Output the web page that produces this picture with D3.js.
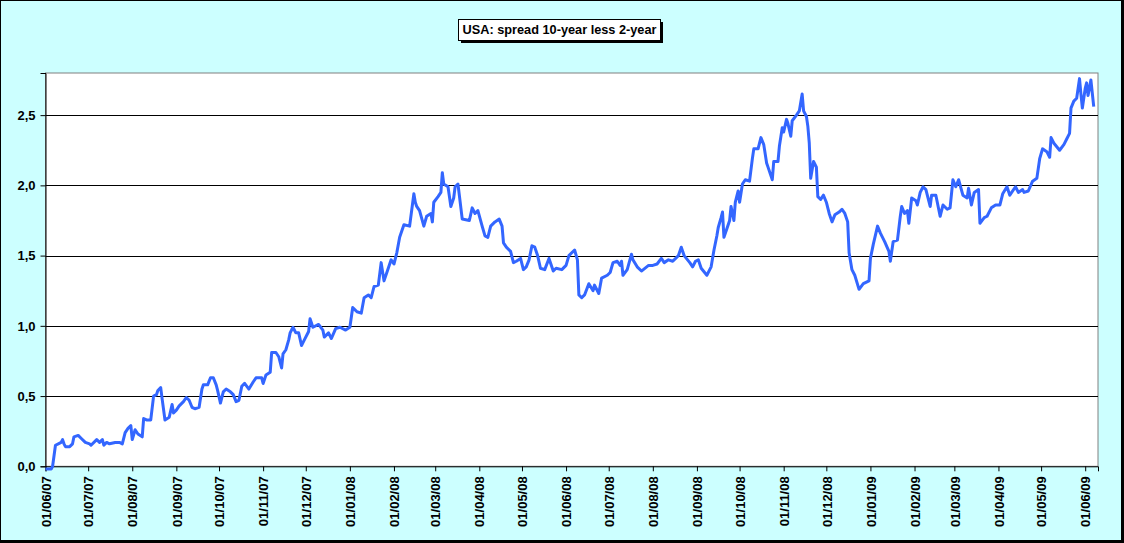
<!DOCTYPE html>
<html><head><meta charset="utf-8">
<script src="https://cdn.jsdelivr.net/npm/d3@7/dist/d3.min.js"></script>
<style>html,body{margin:0;padding:0;background:#CCFFFF;}svg{display:block;}</style>
</head><body>
<script>
const chartTitle = "USA: spread 10-year less 2-year";
const dates = [
"2007-06-01","2007-06-05","2007-06-06","2007-06-08","2007-06-10","2007-06-12","2007-06-13","2007-06-14","2007-06-15","2007-06-18",
"2007-06-20","2007-06-21","2007-06-24","2007-06-26","2007-06-29","2007-07-02","2007-07-03","2007-07-07","2007-07-09","2007-07-11",
"2007-07-12","2007-07-14","2007-07-16","2007-07-20","2007-07-23","2007-07-25","2007-07-27","2007-07-29","2007-07-31","2007-08-01",
"2007-08-03","2007-08-05","2007-08-08","2007-08-09","2007-08-11","2007-08-14","2007-08-16","2007-08-18","2007-08-19","2007-08-21",
"2007-08-22","2007-08-24","2007-08-27","2007-08-29","2007-08-30","2007-09-01","2007-09-03","2007-09-06","2007-09-08","2007-09-10",
"2007-09-12","2007-09-14","2007-09-17","2007-09-19","2007-09-20","2007-09-23","2007-09-25","2007-09-27","2007-09-29","2007-09-30",
"2007-10-02","2007-10-04","2007-10-06","2007-10-09","2007-10-11","2007-10-13","2007-10-15","2007-10-17","2007-10-19","2007-10-22",
"2007-10-25","2007-10-27","2007-10-31","2007-11-01","2007-11-03","2007-11-06","2007-11-07","2007-11-10","2007-11-12","2007-11-14",
"2007-11-15","2007-11-17","2007-11-19","2007-11-20","2007-11-22","2007-11-24","2007-11-26","2007-11-28","2007-11-30","2007-12-03",
"2007-12-04","2007-12-06","2007-12-10","2007-12-13","2007-12-14","2007-12-17","2007-12-19","2007-12-22","2007-12-25","2007-12-29",
"2008-01-01","2008-01-03","2008-01-06","2008-01-09","2008-01-11","2008-01-14","2008-01-16","2008-01-18","2008-01-21","2008-01-23",
"2008-01-25","2008-01-27","2008-01-30","2008-02-01","2008-02-03","2008-02-05","2008-02-08","2008-02-12","2008-02-15","2008-02-16",
"2008-02-17","2008-02-19","2008-02-22","2008-02-24","2008-02-27","2008-02-28","2008-02-29","2008-03-03","2008-03-05","2008-03-06",
"2008-03-07","2008-03-10","2008-03-12","2008-03-14","2008-03-15","2008-03-17","2008-03-20","2008-03-25","2008-03-27","2008-03-29",
"2008-03-31","2008-04-03","2008-04-05","2008-04-07","2008-04-09","2008-04-12","2008-04-15","2008-04-17","2008-04-18","2008-04-20",
"2008-04-23","2008-04-25","2008-04-27","2008-04-30","2008-05-02","2008-05-04","2008-05-06","2008-05-08","2008-05-10","2008-05-12",
"2008-05-14","2008-05-17","2008-05-20","2008-05-23","2008-05-25","2008-05-29","2008-06-01","2008-06-03","2008-06-07","2008-06-09",
"2008-06-10","2008-06-12","2008-06-14","2008-06-17","2008-06-20","2008-06-21","2008-06-24","2008-06-26","2008-06-30","2008-07-02",
"2008-07-04","2008-07-07","2008-07-09","2008-07-10","2008-07-11","2008-07-14","2008-07-17","2008-07-18","2008-07-21","2008-07-24",
"2008-07-29","2008-08-01","2008-08-04","2008-08-07","2008-08-09","2008-08-12","2008-08-15","2008-08-19","2008-08-21","2008-08-23",
"2008-08-27","2008-08-29","2008-08-31","2008-09-02","2008-09-04","2008-09-08","2008-09-11","2008-09-13","2008-09-15","2008-09-16",
"2008-09-18","2008-09-19","2008-09-20","2008-09-22","2008-09-24","2008-09-25","2008-09-27","2008-09-28","2008-09-30","2008-10-01",
"2008-10-03","2008-10-05","2008-10-08","2008-10-10","2008-10-11","2008-10-14","2008-10-16","2008-10-18","2008-10-20","2008-10-21",
"2008-10-24","2008-10-25","2008-10-28","2008-10-29","2008-10-31","2008-11-01","2008-11-03","2008-11-04","2008-11-06","2008-11-07",
"2008-11-10","2008-11-12","2008-11-14","2008-11-15","2008-11-17","2008-11-18","2008-11-19","2008-11-20","2008-11-22","2008-11-24",
"2008-11-25","2008-11-27","2008-11-29","2008-12-01","2008-12-03","2008-12-05","2008-12-07","2008-12-10","2008-12-12","2008-12-14",
"2008-12-16","2008-12-17","2008-12-19","2008-12-21","2008-12-24","2008-12-27","2008-12-31","2009-01-01","2009-01-03","2009-01-06",
"2009-01-08","2009-01-11","2009-01-14","2009-01-15","2009-01-17","2009-01-20","2009-01-22","2009-01-23","2009-01-25","2009-01-27",
"2009-01-28","2009-01-30","2009-02-02","2009-02-03","2009-02-05","2009-02-07","2009-02-09","2009-02-12","2009-02-13","2009-02-16",
"2009-02-19","2009-02-21","2009-02-24","2009-02-26","2009-02-28","2009-03-02","2009-03-04","2009-03-07","2009-03-10","2009-03-11",
"2009-03-13","2009-03-15","2009-03-18","2009-03-19","2009-03-22","2009-03-24","2009-03-27","2009-03-30","2009-04-02","2009-04-04",
"2009-04-07","2009-04-09","2009-04-13","2009-04-15","2009-04-18","2009-04-19","2009-04-22","2009-04-25","2009-04-28","2009-04-30",
"2009-05-02","2009-05-05","2009-05-07","2009-05-08","2009-05-10","2009-05-14","2009-05-17","2009-05-19","2009-05-21","2009-05-22",
"2009-05-24","2009-05-26","2009-05-28","2009-05-29","2009-05-30","2009-06-01","2009-06-02","2009-06-03","2009-06-05","2009-06-07"
];
const spread = [
-0.02,-0.02,0.00,0.15,0.16,0.17,0.19,0.16,0.14,0.14,
0.16,0.21,0.22,0.20,0.17,0.16,0.15,0.19,0.17,0.19,
0.15,0.17,0.16,0.17,0.17,0.16,0.24,0.27,0.29,0.19,
0.26,0.23,0.21,0.34,0.33,0.33,0.50,0.51,0.54,0.56,
0.48,0.33,0.35,0.44,0.38,0.40,0.43,0.46,0.49,0.47,
0.42,0.41,0.42,0.55,0.58,0.58,0.63,0.63,0.58,0.54,
0.45,0.53,0.55,0.53,0.51,0.46,0.47,0.57,0.59,0.55,
0.60,0.63,0.63,0.59,0.65,0.67,0.81,0.81,0.78,0.70,
0.80,0.83,0.90,0.95,0.99,0.95,0.95,0.86,0.90,0.96,
1.05,0.99,1.01,0.97,0.92,0.95,0.91,0.98,0.99,0.97,
0.99,1.13,1.10,1.09,1.20,1.22,1.20,1.28,1.29,1.45,
1.32,1.38,1.47,1.44,1.52,1.63,1.72,1.71,1.94,1.88,
1.85,1.82,1.71,1.78,1.80,1.74,1.88,1.92,1.95,2.09,
2.01,1.99,1.85,1.91,1.99,2.01,1.76,1.75,1.84,1.80,
1.82,1.71,1.64,1.63,1.71,1.74,1.76,1.71,1.59,1.56,
1.53,1.45,1.46,1.48,1.40,1.42,1.47,1.57,1.56,1.50,
1.41,1.40,1.48,1.39,1.41,1.40,1.43,1.50,1.54,1.47,
1.22,1.20,1.22,1.30,1.25,1.29,1.23,1.34,1.36,1.38,
1.45,1.46,1.43,1.46,1.36,1.40,1.51,1.47,1.42,1.39,
1.43,1.43,1.44,1.48,1.45,1.47,1.46,1.50,1.56,1.50,
1.45,1.42,1.46,1.47,1.41,1.36,1.42,1.54,1.64,1.70,
1.77,1.81,1.63,1.69,1.75,1.85,1.75,1.88,1.96,1.88,
2.01,2.04,2.03,2.19,2.26,2.26,2.34,2.29,2.16,2.13,
2.04,2.17,2.17,2.28,2.41,2.38,2.47,2.44,2.35,2.46,
2.50,2.53,2.65,2.53,2.49,2.42,2.30,2.05,2.17,2.13,
1.92,1.90,1.93,1.88,1.80,1.74,1.79,1.81,1.83,1.80,
1.74,1.52,1.40,1.36,1.26,1.30,1.32,1.48,1.58,1.71,
1.66,1.60,1.53,1.46,1.60,1.61,1.78,1.85,1.80,1.82,
1.73,1.91,1.89,1.86,1.95,1.99,1.97,1.85,1.93,1.93,
1.78,1.86,1.83,1.84,2.04,1.99,2.04,1.93,1.91,1.98,
1.86,1.95,1.97,1.73,1.77,1.78,1.84,1.86,1.86,1.94,
1.99,1.93,1.99,1.95,1.97,1.95,1.96,2.03,2.05,2.19,
2.26,2.24,2.20,2.34,2.30,2.25,2.29,2.33,2.37,2.55,
2.60,2.62,2.76,2.65,2.55,2.69,2.73,2.64,2.75,2.56
];
const yTicks = [0, 0.5, 1.0, 1.5, 2.0, 2.5];
const yTickLabels = ["0,0", "0,5", "1,0", "1,5", "2,0", "2,5"];
const xStart = "2007-06-01", xEnd = "2009-06-10";

const W = 1124, H = 543;
const plot = {left: 45.5, right: 1098, top: 73, bottom: 466.3};
const parse = d3.timeParse("%Y-%m-%d");
const data = dates.map((d, i) => ({date: parse(d), v: spread[i]}));

const x = d3.scaleTime().domain([parse(xStart), parse(xEnd)]).range([plot.left, plot.right]);
const y = d3.scaleLinear().domain([0, 2.8]).range([plot.bottom, plot.top]);

const svg = d3.select("body").append("svg").attr("width", W).attr("height", H);
svg.append("rect").attr("x", 0).attr("y", 0).attr("width", W).attr("height", H).attr("fill", "#CCFFFF");
// outer frame
svg.append("rect").attr("x", 0.5).attr("y", 0.5).attr("width", W - 3).attr("height", H - 3)
  .attr("fill", "none").attr("stroke", "#000").attr("stroke-width", 1);
svg.append("line").attr("x1", W - 1.5).attr("x2", W - 1.5).attr("y1", 0).attr("y2", H).attr("stroke", "#000").attr("stroke-width", 3);
svg.append("line").attr("x1", 0).attr("x2", W).attr("y1", H - 1.5).attr("y2", H - 1.5).attr("stroke", "#000").attr("stroke-width", 3);

// plot area
svg.append("rect").attr("x", plot.left).attr("y", plot.top)
  .attr("width", plot.right - plot.left).attr("height", plot.bottom - plot.top)
  .attr("fill", "#fff").attr("stroke", "#808080").attr("stroke-width", 1);

// gridlines
svg.append("g").selectAll("line").data(yTicks.filter(t => t > 0)).join("line")
  .attr("x1", plot.left).attr("x2", plot.right)
  .attr("y1", d => Math.round(y(d)) + 0.5).attr("y2", d => Math.round(y(d)) + 0.5)
  .attr("stroke", "#000").attr("stroke-width", 1);

const font = "'Liberation Sans', Arial, sans-serif";

// y axis
const yAxis = d3.axisLeft(y).tickValues(yTicks).tickSize(5).tickPadding(5)
  .tickFormat((d, i) => yTickLabels[i]);
const gy = svg.append("g").attr("transform", `translate(${plot.left},0)`).call(yAxis);
gy.select(".domain").attr("stroke", "#000");
gy.selectAll(".tick line").attr("stroke", "#000");
gy.selectAll(".tick text").attr("font-family", font).attr("font-size", 13).attr("font-weight", "bold").attr("fill", "#000");

// x axis
const months = d3.timeMonth.range(parse(xStart), parse(xEnd));
const xAxis = d3.axisBottom(x).tickValues(months).tickSize(5).tickFormat(d3.timeFormat("%d/%m/%y"));
const gx = svg.append("g").attr("transform", `translate(0,${plot.bottom})`).call(xAxis);
gx.select(".domain").attr("stroke", "#000");
gx.selectAll(".tick line").attr("stroke", "#000");
gx.selectAll(".tick text")
  .attr("font-family", font).attr("font-size", 13).attr("font-weight", "bold").attr("fill", "#000")
  .attr("text-anchor", "end").attr("transform", "rotate(-90)")
  .attr("x", -10).attr("y", 0).attr("dy", "0.36em");

// series line
const line = d3.line().x(d => x(d.date)).y(d => y(d.v)).curve(d3.curveLinear);
svg.append("path").datum(data).attr("d", line)
  .attr("fill", "none").attr("stroke", "#3366FF").attr("stroke-width", 3)
  .attr("stroke-linejoin", "round");

// title box
const tb = {x: 458, y: 19, w: 202, h: 21};
svg.append("rect").attr("x", tb.x + 3).attr("y", tb.y + 3).attr("width", tb.w).attr("height", tb.h).attr("fill", "#000");
svg.append("rect").attr("x", tb.x + 0.5).attr("y", tb.y + 0.5).attr("width", tb.w).attr("height", tb.h)
  .attr("fill", "#fff").attr("stroke", "#000").attr("stroke-width", 1);
svg.append("text").attr("x", tb.x + tb.w / 2 + 0.5).attr("y", tb.y + tb.h / 2 + 1)
  .attr("text-anchor", "middle").attr("dominant-baseline", "middle")
  .attr("font-family", font).attr("font-size", 13).attr("font-weight", "bold")
  .attr("textLength", 194).attr("lengthAdjust", "spacingAndGlyphs")
  .text(chartTitle);
</script>
</body></html>
